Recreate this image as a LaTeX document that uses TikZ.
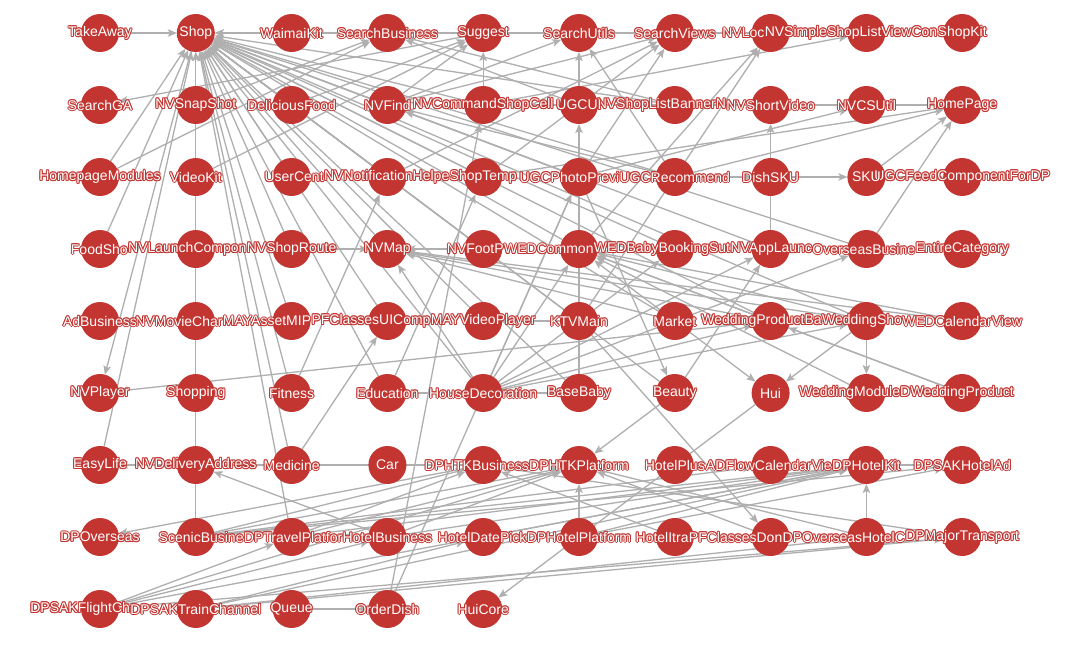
\documentclass[tikz,border=0pt]{standalone}
\usepackage{fontspec}
\setmainfont{Liberation Sans}
\usetikzlibrary{arrows.meta}
\definecolor{nodered}{HTML}{C23531}
\definecolor{edgegray}{HTML}{AFAFAF}
\tikzset{
  spot/.style={circle, minimum size=38pt, inner sep=0pt, outer sep=0pt},
  edge/.style={draw=edgegray, line width=1.3pt, -{Stealth[length=9pt,width=7.5pt,inset=2pt]}},
  halo/.style={text=nodered, font=\fontsize{14}{15}\selectfont, inner sep=0pt},
  labtext/.style={text=white, font=\fontsize{14}{15}\selectfont, inner sep=0pt}
}
\newcommand\mklab[3]{%
  \node[labtext, text opacity=0, #3] (L#1) {#2};
  \foreach \a in {0,45,...,315} {\node[halo] at ([shift={(\a:1pt)}]L#1.center) {#2};}
  \node[labtext] at (L#1.center) {#2};
}
\newcommand\clab[2]{\mklab{#1}{#2}{at={(#1.center)}}}
\newcommand\tlab[3]{\mklab{#1}{#2}{anchor=east, at={(L#3.west)}}}
\def\nodelist{
takeaway/0/0, shop/1/0, waimai/2/0, searchbiz/3/0, suggest/4/0, searchutils/5/0, searchviews/6/0, nvloc/7/0, nvsimple/8/0, shopkit/9/0,
searchga/0/1, snapshot/1/1, delicious/2/1, nvfind/3/1, nvcmd/4/1, ugcui/5/1, banner/6/1, shortvideo/7/1, csutil/8/1, homepage/9/1,
hpmodules/0/2, videokit/1/2, usercenter/2/2, notif/3/2, shoptemp/4/2, photoprev/5/2, ugcrec/6/2, dishsku/7/2, sku/8/2, ugcfeed/9/2,
foodshop/0/3, launchcomp/1/3, shoproute/2/3, nvmap/3/3, footprint/4/3, wedcommon/5/3, wedbaby/6/3, applaunch/7/3, overseasbiz/8/3, entirecat/9/3,
adbiz/0/4, moviechar/1/4, mayasset/2/4, pfuicomp/3/4, mayvideo/4/4, ktv/5/4, market/6/4, wedprodb/7/4, wedshop/8/4, wedcal/9/4,
nvplayer/0/5, shopping/1/5, fitness/2/5, education/3/5, housedec/4/5, basebaby/5/5, beauty/6/5, hui/7/5, wedmodule/8/5, wedproduct/9/5,
easylife/0/6, delivery/1/6, medicine/2/6, car/3/6, htkbiz/4/6, htkplat/5/6, hotelplus/6/6, adflow/7/6, hotelkit/8/6, sakhotelad/9/6,
dpoverseas/0/7, scenic/1/7, travelplat/2/7, hotelbiz/3/7, datepick/4/7, hotelplat/5/7, hotelitra/6/7, pfdom/7/7, overseashotel/8/7, majortrans/9/7,
flight/0/8, train/1/8, queue/2/8, orderdish/3/8, huicore/4/8}
\def\edgelist{
takeaway/shop, waimai/shop, searchviews/shop, snapshot/shop, delicious/shop, nvfind/shop, nvcmd/shop, banner/shop,
hpmodules/shop, usercenter/shop, notif/shop, shoptemp/shop, photoprev/shop, ugcrec/shop, foodshop/shop, shoproute/shop,
nvmap/shop, footprint/shop, wedcommon/shop, wedbaby/shop, applaunch/shop, overseasbiz/shop, mayasset/shop, pfuicomp/shop,
mayvideo/shop, ktv/shop, market/shop, wedprodb/shop, wedshop/shop, fitness/shop, education/shop, housedec/shop,
basebaby/shop, beauty/shop, easylife/shop, medicine/shop, scenic/shop, travelplat/shop, shop/nvplayer,
suggest/searchga, nvfind/searchutils, ugcui/searchutils, ugcrec/searchutils, ugcui/searchbiz, banner/searchbiz, snapshot/searchbiz,
delicious/suggest, nvcmd/suggest, videokit/suggest, nvfind/suggest, notif/searchviews, photoprev/searchviews, shoptemp/searchviews,
nvfind/searchviews, hpmodules/searchbiz, wedcommon/nvloc, nvcmd/nvsimple, nvloc/searchviews, orderdish/nvcmd, orderdish/photoprev,
basebaby/ugcui, shortvideo/csutil, csutil/homepage, ugcui/csutil, photoprev/csutil, nvcmd/csutil, ugcrec/homepage, sku/homepage,
overseasbiz/homepage, shoptemp/homepage, applaunch/shortvideo, dishsku/sku, ugcrec/dishsku, sku/ugcfeed, ugcrec/nvfind, photoprev/nvfind,
shoproute/nvmap, footprint/nvmap, wedshop/nvmap, wedprodb/nvmap, market/nvmap, housedec/nvmap, wedcal/nvmap,
wedshop/wedcommon, wedcal/wedcommon, wedmodule/wedcommon, wedproduct/wedcommon, wedprodb/wedcommon, wedshop/wedprodb, wedproduct/wedprodb,
wedshop/wedmodule, wedshop/hui, market/hui, hui/huicore, photoprev/beauty, housedec/wedbaby, housedec/applaunch, housedec/overseasbiz,
housedec/wedcommon, housedec/wedprodb, housedec/wedshop, housedec/photoprev, basebaby/education, ktv/mayvideo, moviechar/adbiz,
medicine/pfuicomp, wedprodb/nvplayer, education/shoptemp, fitness/notif, beauty/applaunch, market/wedcommon, ktv/nvloc,
htkbiz/easylife, queue/orderdish, beauty/htkplat, hotelplat/htkplat, overseashotel/hotelkit, hotelkit/sakhotelad,
scenic/htkbiz, scenic/htkplat, scenic/adflow, scenic/hotelkit, scenic/sakhotelad, travelplat/htkbiz, travelplat/htkplat, travelplat/hotelkit,
hotelbiz/hotelkit, hotelbiz/htkplat, datepick/hotelkit, hotelplat/hotelkit, hotelplat/sakhotelad, hotelitra/htkbiz, pfdom/htkplat,
overseashotel/htkplat, majortrans/htkbiz, ktv/pfdom, hotelbiz/delivery, htkbiz/dpoverseas,
flight/travelplat, flight/hotelbiz, flight/hotelkit, flight/majortrans, flight/htkplat, train/datepick, train/majortrans, train/overseashotel, train/hotelkit}
\begin{document}
\begin{tikzpicture}[x=1pt,y=-1pt]
\fill[white] (0,0) rectangle (1080,659);
\useasboundingbox (0,0) rectangle (1080,659);
\foreach \n/\c/\r in \nodelist {\node[spot] (\n) at ({100+95.8*\c},{33+72*\r}) {};}
\foreach \s/\t in \edgelist {\draw[edge] (\s) -- (\t);}
\foreach \n/\c/\r in \nodelist {\fill[nodered] (\n.center) circle (19pt);}
% row 0
\clab{shopkit}{ShopKit}
\tlab{nvsimple}{NVSimpleShopListViewCon}{shopkit}
\tlab{nvloc}{NVLoc}{nvsimple}
\clab{searchviews}{SearchViews}
\clab{searchutils}{SearchUtils}
\clab{suggest}{Suggest}
\clab{searchbiz}{SearchBusiness}
\clab{waimai}{WaimaiKit}
\clab{shop}{Shop}
\clab{takeaway}{TakeAway}
% row 1
\clab{homepage}{HomePage}
\clab{csutil}{NVCSUtil}
\clab{shortvideo}{NVShortVideo}
\tlab{banner}{NVShopListBannerN}{shortvideo}
\clab{ugcui}{UGCUI}
\clab{nvcmd}{NVCommandShopCell}
\clab{nvfind}{NVFind}
\clab{delicious}{DeliciousFood}
\clab{snapshot}{NVSnapShot}
\clab{searchga}{SearchGA}
% row 2
\clab{ugcfeed}{UGCFeedComponentForDP}
\clab{sku}{SKU}
\clab{dishsku}{DishSKU}
\clab{ugcrec}{UGCRecommend}
\tlab{photoprev}{UGCPhotoPrevi}{ugcrec}
\clab{shoptemp}{ShopTemp}
\tlab{notif}{NVNotificationHelpe}{shoptemp}
\tlab{usercenter}{UserCent}{notif}
\clab{videokit}{VideoKit}
\clab{hpmodules}{HomepageModules}
% row 3
\clab{entirecat}{EntireCategory}
\tlab{overseasbiz}{OverseasBusine}{entirecat}
\tlab{applaunch}{NVAppLaunc}{overseasbiz}
\tlab{wedbaby}{WEDBabyBookingSut}{applaunch}
\tlab{wedcommon}{WEDCommon}{wedbaby}
\tlab{footprint}{NVFootP}{wedcommon}
\clab{nvmap}{NVMap}
\clab{shoproute}{NVShopRoute}
\tlab{launchcomp}{NVLaunchCompon}{shoproute}
\tlab{foodshop}{FoodSho}{launchcomp}
% row 4
\clab{wedcal}{WEDCalendarView}
\tlab{wedshop}{WeddingSho}{wedcal}
\tlab{wedprodb}{WeddingProductBa}{wedshop}
\clab{market}{Market}
\clab{ktv}{KTVMain}
\clab{mayvideo}{MAYVideoPlayer}
\tlab{pfuicomp}{PFClassesUIComp}{mayvideo}
\tlab{mayasset}{MAYAssetMIP}{pfuicomp}
\tlab{moviechar}{NVMovieChar}{mayasset}
\clab{adbiz}{AdBusiness}
% row 5
\clab{wedproduct}{WeddingProduct}
\tlab{wedmodule}{WeddingModuleD}{wedproduct}
\clab{hui}{Hui}
\clab{beauty}{Beauty}
\clab{basebaby}{BaseBaby}
\clab{housedec}{HouseDecoration}
\clab{education}{Education}
\clab{fitness}{Fitness}
\clab{shopping}{Shopping}
\clab{nvplayer}{NVPlayer}
% row 6
\clab{sakhotelad}{DPSAKHotelAd}
\clab{hotelkit}{DPHotelKit}
\tlab{adflow}{ADFlowCalendarVie}{hotelkit}
\clab{hotelplus}{HotelPlus}
\clab{htkplat}{DPHTKPlatform}
\tlab{htkbiz}{DPHTKBusiness}{htkplat}
\clab{car}{Car}
\clab{medicine}{Medicine}
\clab{delivery}{NVDeliveryAddress}
\clab{easylife}{EasyLife}
% row 7
\clab{majortrans}{DPMajorTransport}
\tlab{overseashotel}{DPOverseasHotelC}{majortrans}
\tlab{pfdom}{PFClassesDon}{overseashotel}
\tlab{hotelitra}{HotelItra}{pfdom}
\clab{hotelplat}{DPHotelPlatform}
\tlab{datepick}{HotelDatePick}{hotelplat}
\clab{hotelbiz}{HotelBusiness}
\tlab{travelplat}{DPTravelPlatfor}{hotelbiz}
\tlab{scenic}{ScenicBusine}{travelplat}
\clab{dpoverseas}{DPOverseas}
% row 8
\clab{huicore}{HuiCore}
\clab{orderdish}{OrderDish}
\clab{queue}{Queue}
\clab{train}{DPSAKTrainChannel}
\tlab{flight}{DPSAKFlightCh}{train}
\end{tikzpicture}
\end{document}
